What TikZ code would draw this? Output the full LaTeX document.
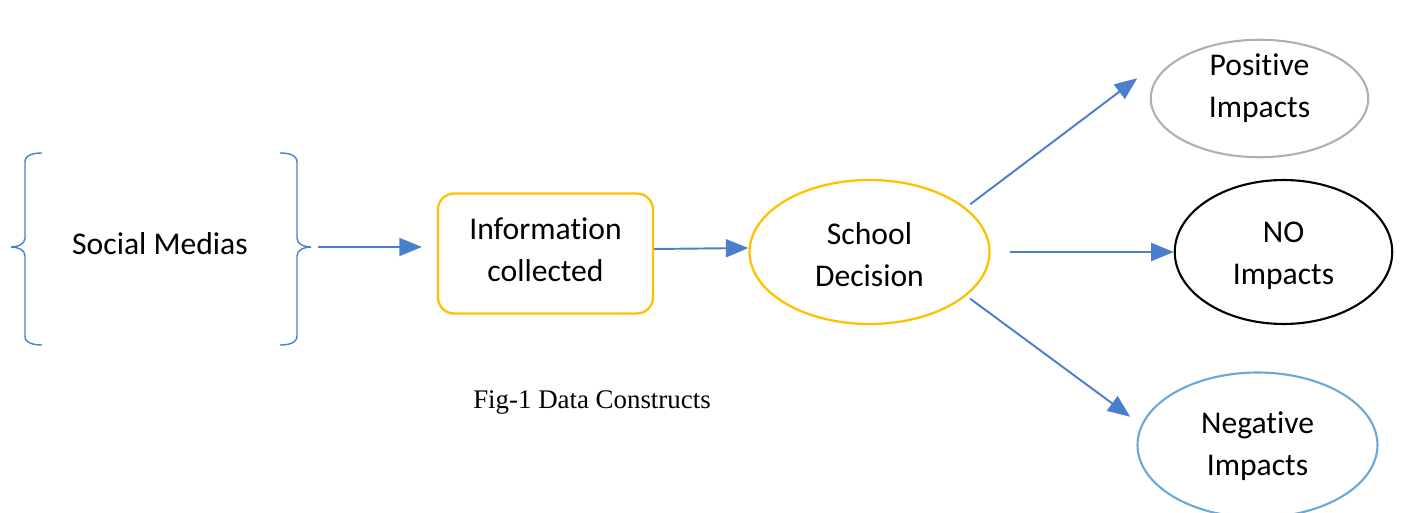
\documentclass[tikz,border=0pt]{standalone}
\usepackage{fontspec}
\setmainfont{Carlito}[RawFeature={-liga}]
\newfontfamily\capfont{Liberation Serif}
\usetikzlibrary{arrows.meta,shapes.geometric}

\definecolor{arrblue}{HTML}{4A7FCC}
\definecolor{gold}{HTML}{FFC000}
\definecolor{lightblue}{HTML}{6AA8DA}
\definecolor{softgray}{HTML}{B0B0B0}

\begin{document}
\begin{tikzpicture}[x=0.02cm,y=-0.02cm,
  txt/.style={font=\fontsize{18}{24}\selectfont,align=center,inner sep=0pt},
  outcome/.style={draw,ellipse,line width=1.2pt,minimum width=4.35cm,minimum height=2.35cm},
  brk/.style={draw=arrblue,line width=0.8pt},
  arr/.style={-{Triangle[length=4.5mm,width=3.6mm]},draw=arrblue,fill=arrblue,line width=1.1pt}
]
\useasboundingbox (0,0) rectangle (1401,513);

% Social media bracket group
\node[txt] (social) at (160,244) {Social Medias};
\draw[brk] (42,153) to[out=180,in=90] (25,162) -- (25,238)
  to[out=-90,in=0] (11,247) to[out=0,in=90] (25,256) -- (25,336)
  to[out=-90,in=180] (42,345);
\draw[brk] (280,153) to[out=0,in=90] (297,162) -- (297,238)
  to[out=-90,in=180] (311,247) to[out=180,in=90] (297,256) -- (297,336)
  to[out=-90,in=0] (280,345);
\coordinate (socialout) at (318,247);

% Information box
\node[draw=gold,line width=1.3pt,rounded corners=0.32cm,minimum width=4.3cm,
  minimum height=2.4cm] (info) at (545.5,253.5) {};
\node[txt] (infotxt) at (545.5,250) {Information\\collected};

% Decision
\node[draw=gold,ellipse,line width=1.3pt,minimum width=4.8cm,minimum height=2.88cm]
  (school) at (869.5,252) {};
\node[txt] (schooltxt) at (869.5,254.5) {School\\Decision};

% Outcomes
\node[outcome,draw=softgray] (pos) at (1259.5,98.5) {};
\node[txt] (postxt) at (1259.5,88) {Positive\\Impacts};
\node[outcome,draw=black,minimum height=2.88cm] (noimp) at (1283.5,252) {};
\node[txt] (notxt) at (1283.5,256) {NO\\Impacts};
\node[outcome,draw=lightblue,minimum width=4.8cm,minimum height=2.9cm] (neg) at (1257.5,445) {};
\node[txt] (negtxt) at (1257.5,446) {Negative\\Impacts};

% Arrows
\draw[arr,shorten >=0.3cm] (socialout) -- (socialout -| info.west);
\draw[arr] ([yshift=0.09cm]info.east) -- ([yshift=0.08cm]school.west);
\draw[arr] ([xshift=-0.06cm,yshift=0.2cm]school.20) -- ++(167,-126);
\draw[arr] ([xshift=0.38cm]school.east) -- (noimp.west);
\draw[arr] ([xshift=-0.06cm,yshift=-0.18cm]school.-20) -- ++(160,118);

% Caption
\node[font=\capfont\fontsize{15.3}{17}\selectfont] (cap) at (592,403) {Fig-1 Data Constructs};
\end{tikzpicture}
\end{document}
